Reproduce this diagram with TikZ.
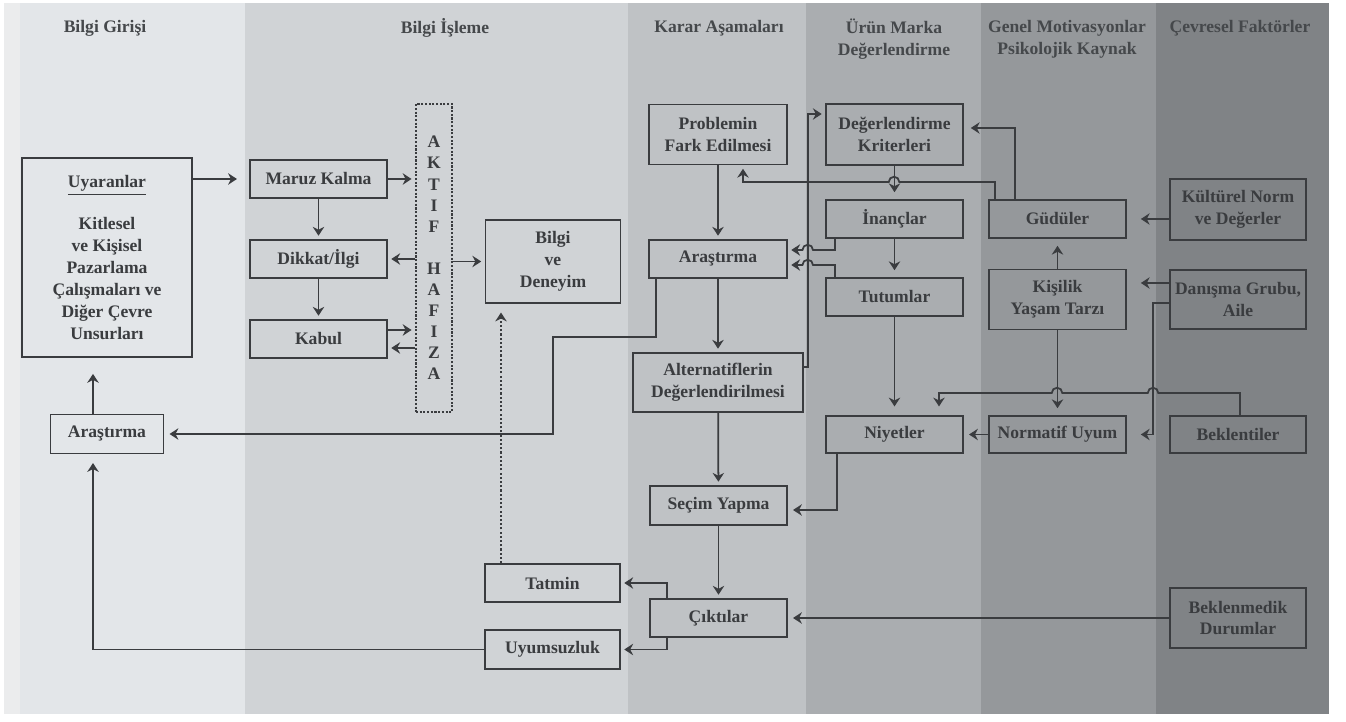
\documentclass[tikz,border=0pt]{standalone}
\usepackage{fontspec}
\setmainfont{Liberation Serif}
\usetikzlibrary{arrows.meta, calc, positioning}
\usepackage{xcolor}

\definecolor{serit}{HTML}{EBECED}
\definecolor{bant1}{HTML}{E3E6E9}
\definecolor{bant2}{HTML}{D0D3D6}
\definecolor{bant3}{HTML}{BFC2C5}
\definecolor{bant4}{HTML}{AAADB0}
\definecolor{bant5}{HTML}{95989B}
\definecolor{bant6}{HTML}{808386}
\definecolor{kenar}{HTML}{3A3C3F}
\definecolor{yazi}{HTML}{3A3C3F}
\definecolor{basyazi}{HTML}{45484B}

\tikzset{
  kutu/.style={draw=kenar, line width=0.9pt, inner sep=0pt, align=center,
    minimum width=2.74cm, minimum height=0.76cm, text=yazi,
    font=\fontsize{10}{12.5}\selectfont\bfseries},
  ikisatir/.style={kutu, minimum height=1.2cm},
  hafiza/.style={kutu, minimum width=0.72cm, minimum height=6.16cm,
    dash pattern=on 1.2pt off 0.9pt, line width=1.1pt,
    font=\fontsize{10}{12}\selectfont\bfseries},
  baslik/.style={align=center, text=basyazi,
    font=\fontsize{10}{12.5}\selectfont\bfseries},
  ok/.style={draw=kenar, line width=1pt, shorten >=2pt,
    -{Stealth[length=5pt, width=6.5pt]}}
}

\begin{document}
\begin{tikzpicture}[x=0.02cm, y=-0.02cm]
  \useasboundingbox (0,0) rectangle (1346,722);
  % bands
  \fill[white] (0,0) rectangle (1346,722);
  \fill[serit] (4,3) rectangle (20,714);
  \fill[bant1] (20,3) rectangle (245,714);
  \fill[bant2] (245,3) rectangle (628,714);
  \fill[bant3] (628,3) rectangle (806,714);
  \fill[bant4] (806,3) rectangle (981,714);
  \fill[bant5] (981,3) rectangle (1156,714);
  \fill[bant6] (1156,3) rectangle (1329,714);

  % headers
  \node[baslik] (h1) at (105,28) {Bilgi Girişi};
  \node[baslik] (h2) at (445,28) {Bilgi İşleme};
  \node[baslik] (h3) at (719,28) {Karar Aşamaları};
  \node[baslik] (h4) at (894,39) {Ürün Marka\\Değerlendirme};
  \node[baslik] (h5) at (1067,39) {Genel Motivasyonlar\\Psikolojik Kaynak};
  \node[baslik] (h6) at (1240,28) {Çevresel Faktörler};

  % bilgi girisi
  \node[kutu, line width=1.3pt, minimum width=3.4cm, minimum height=3.98cm]
    (uyaran) at (107,257.5) {\underline{Uyaranlar}\\[11pt]Kitlesel\\ve Kişisel\\Pazarlama\\Çalışmaları ve\\Diğer Çevre\\Unsurları};
  \node[kutu, minimum width=2.26cm, minimum height=0.78cm] (arsolu) at (107,434) {Araştırma};

  % bilgi isleme
  \node[kutu] (maruz) at (318.5,179) {Maruz Kalma};
  \node[kutu] (dikkat) at (318.5,259) {Dikkat/İlgi};
  \node[kutu] (kabul) at (318.5,339) {Kabul};
  \node[hafiza] (aktif) at (434,258) {A\\K\\T\\I\\F\\[12pt]H\\A\\F\\I\\Z\\A};
  \node[kutu, minimum width=2.7cm, minimum height=1.66cm] (bilgi) at (553,261.5) {Bilgi\\ve\\Deneyim};
  \node[kutu, minimum width=2.7cm] (tatmin) at (552.5,583) {Tatmin};
  \node[kutu, minimum width=2.7cm, minimum height=0.78cm] (uyumsuz) at (552.5,649.5) {Uyumsuzluk};

  % karar asamalari
  \node[ikisatir, minimum width=2.76cm] (problem) at (718,134.5) {Problemin\\Fark Edilmesi};
  \node[kutu, minimum width=2.76cm] (arastirma) at (718,259) {Araştırma};
  \node[ikisatir, minimum width=3.4cm, minimum height=1.18cm] (alternatif) at (718,382.5) {Alternatiflerin\\Değerlendirilmesi};
  \node[kutu, minimum height=0.78cm] (secim) at (718.5,505.5) {Seçim Yapma};
  \node[kutu] (cikti) at (718.5,618) {Çıktılar};

  % urun marka
  \node[ikisatir, minimum height=1.22cm] (kriter) at (894.5,134.5) {Değerlendirme\\Kriterleri};
  \node[kutu] (inanc) at (894.5,219) {İnançlar};
  \node[kutu] (tutum) at (894.5,297) {Tutumlar};
  \node[kutu, minimum height=0.74cm] (niyet) at (894.5,434.5) {Niyetler};

  % motivasyon
  \node[kutu] (gudu) at (1057.5,219) {Güdüler};
  \node[ikisatir] (kisilik) at (1057.5,299.5) {Kişilik\\Yaşam Tarzı};
  \node[kutu, minimum height=0.74cm] (normatif) at (1057.5,434.5) {Normatif Uyum};

  % cevresel
  \node[ikisatir, minimum width=2.72cm, minimum height=1.22cm] (kultur) at (1238,209.5) {Kültürel Norm\\ve Değerler};
  \node[ikisatir, minimum width=2.72cm, minimum height=1.18cm] (danisma) at (1238,299.5) {Danışma Grubu,\\Aile};
  \node[kutu, minimum width=2.72cm, minimum height=0.74cm] (beklenti) at (1238,434.5) {Beklentiler};
  \node[ikisatir, minimum width=2.72cm] (beklenmedik) at (1238,618) {Beklenmedik\\Durumlar};

  % oklar: bilgi girisi / isleme
  \draw[ok, shorten >=7pt] (uyaran.east |- maruz) -- (maruz.west);
  \draw[ok] (maruz.east) -- (maruz.east -| aktif.west);
  \draw[ok] (maruz) -- (dikkat);
  \draw[ok] (dikkat.east -| aktif.west) -- (dikkat.east);
  \draw[ok] (dikkat) -- (kabul);
  \draw[ok] ($(kabul.east)+(0,-9)$) -- ($(kabul.east -| aktif.west)+(0,-9)$);
  \draw[ok] ($(kabul.east -| aktif.west)+(0,9)$) -- ($(kabul.east)+(0,9)$);
  \draw[ok] (aktif.east |- bilgi) -- (bilgi.west);
  \draw[ok, shorten >=9pt] (93,0 |- arsolu.north) -- (93,0 |- uyaran.south);
  \draw[ok, shorten >=3pt] (656,0 |- arastirma.south) |- (553,337) |- (arsolu.east);
  \draw[ok, shorten >=5pt] (uyumsuz.west) -| (93,0 |- arsolu.south);
  \draw[ok, line width=1.2pt, dash pattern=on 1.2pt off 1.2pt, shorten >=5pt]
    (501,0 |- tatmin.north) -- (501,0 |- bilgi.south);

  % oklar: karar
  \draw[ok] (problem) -- (arastirma);
  \draw[ok] (arastirma) -- (alternatif);
  \draw[ok] (alternatif) -- (secim);
  \draw[ok] (secim) -- (cikti);
  \draw[ok] (667,0 |- cikti.north) |- (tatmin.east);
  \draw[ok] (667,0 |- cikti.south) |- (uyumsuz.east);
  \draw[ok, shorten >=3pt] (beklenmedik.west) -- (cikti.east);
  \draw[ok] (alternatif.east |- 0,367) -| (808,114) -- (kriter.west |- 0,114);
  \draw[ok] (835,0 |- inanc.south) |- (813,250)
    arc[start angle=0, end angle=180, radius=3pt] -- (arastirma.east |- 0,250);
  \draw[ok] (835,0 |- tutum.north) |- (813,265)
    arc[start angle=0, end angle=180, radius=3pt] -- (arastirma.east |- 0,265);

  % oklar: urun marka / motivasyon
  \draw[ok] (995,0 |- gudu.north) |- (899.3,182)
    arc[start angle=0, end angle=180, radius=3pt] -- (743,182) -- (743,0 |- problem.south);
  \draw[ok, shorten >=4pt] (1015,0 |- gudu.north) |- (kriter.east |- 0,128);
  \draw[ok, shorten >=4pt] (kriter) -- (inanc);
  \draw[ok, shorten >=4pt] (inanc) -- (tutum);
  \draw[ok, shorten >=5pt] (tutum) -- (niyet);
  \draw[ok, shorten >=8pt] (kultur.west |- gudu) -- (gudu.east);
  \draw[ok, shorten >=4pt] (kisilik) -- (gudu);
  \draw[ok, shorten >=8pt] (danisma.west |- 0,283) -- (kisilik.east |- 0,283);
  \draw[ok, shorten >=8pt] (danisma.west |- 0,303) -- (1153,303) |- (normatif.east);
  \draw[ok, shorten >=4pt] (kisilik) -- (normatif);
  \draw[ok, shorten >=5pt] (1240,0 |- beklenti.north) |- (1158.3,393)
    arc[start angle=0, end angle=180, radius=3pt] -- (1062.3,393)
    arc[start angle=0, end angle=180, radius=3pt] -- (939,393) -- (939,0 |- niyet.north);
  \draw[ok, shorten >=3pt] (normatif) -- (niyet);
  \draw[ok, shorten >=3pt] (837,0 |- niyet.south) |- (secim.east |- 0,510);
\end{tikzpicture}
\end{document}
